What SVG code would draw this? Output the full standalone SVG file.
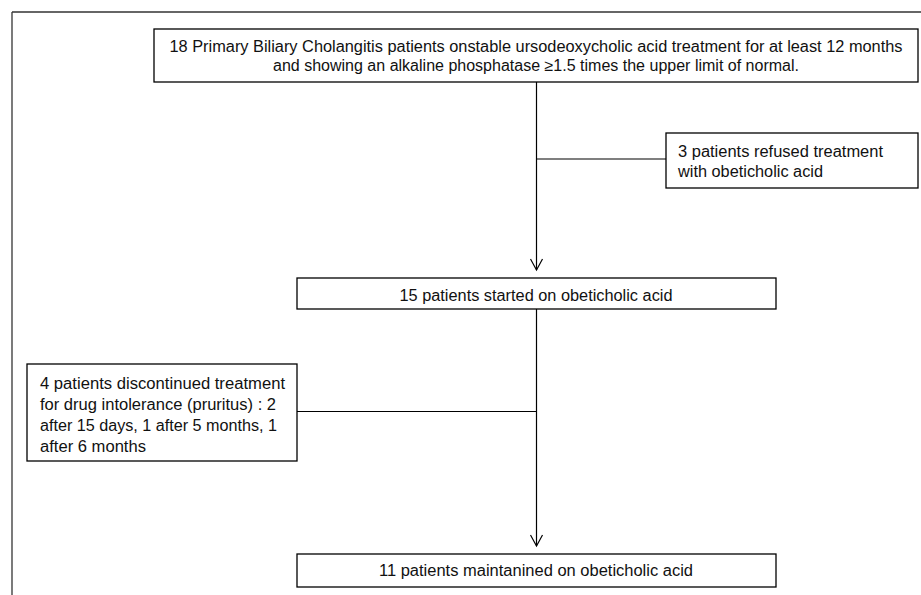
<svg xmlns="http://www.w3.org/2000/svg" width="921" height="595" viewBox="0 0 921 595">
<style>
.box{fill:#fff;stroke:#000;stroke-width:1.3}
.t{font-family:"Liberation Sans",Arial,sans-serif;font-size:16px;fill:#111}
.c{stroke:#000;stroke-width:1.2;fill:none}
</style>
<defs>
<marker id="arr" markerWidth="14" markerHeight="14" refX="12" refY="7" orient="auto" markerUnits="userSpaceOnUse">
<path d="M1,1 L12,7 L1,13" fill="none" stroke="#000" stroke-width="1.2"/>
</marker>
</defs>
<rect width="921" height="595" fill="#fff"/>
<g id="frame">
<line x1="12" y1="12" x2="921" y2="12" stroke="#333" stroke-width="1.3"/>
<line x1="12" y1="12" x2="12" y2="595" stroke="#333" stroke-width="1.3"/>
</g>
<g id="connectors">
<line class="c" x1="536.5" y1="82" x2="536.5" y2="270" marker-end="url(#arr)"/>
<line class="c" x1="536.5" y1="159" x2="666" y2="159"/>
<line class="c" x1="536.5" y1="309" x2="536.5" y2="546" marker-end="url(#arr)"/>
<line class="c" x1="297" y1="411.5" x2="536.5" y2="411.5"/>
</g>
<g id="n1">
<rect class="box" x="154" y="29" width="764" height="53"/>
<text class="t" x="536" y="51.5" text-anchor="middle" textLength="733" lengthAdjust="spacingAndGlyphs">18 Primary Biliary Cholangitis patients onstable ursodeoxycholic acid treatment for at least 12 months</text>
<text class="t" x="536" y="71" text-anchor="middle" textLength="526" lengthAdjust="spacingAndGlyphs">and showing an alkaline phosphatase ≥1.5 times the upper limit of normal.</text>
</g>
<g id="n2">
<rect class="box" x="666" y="133" width="252" height="55"/>
<text class="t" x="678" y="156.5" textLength="205" lengthAdjust="spacingAndGlyphs">3 patients refused treatment</text>
<text class="t" x="678" y="176.5" textLength="145" lengthAdjust="spacingAndGlyphs">with obeticholic acid</text>
</g>
<g id="n3">
<rect class="box" x="297" y="278" width="479" height="31"/>
<text class="t" x="536" y="301" text-anchor="middle" textLength="273" lengthAdjust="spacingAndGlyphs">15 patients started on obeticholic acid</text>
</g>
<g id="n4">
<rect class="box" x="27" y="364" width="270" height="97"/>
<text class="t" x="40" y="389" textLength="245" lengthAdjust="spacingAndGlyphs">4 patients discontinued treatment</text>
<text class="t" x="40" y="410" textLength="236" lengthAdjust="spacingAndGlyphs">for drug intolerance (pruritus) : 2</text>
<text class="t" x="40" y="431" textLength="237" lengthAdjust="spacingAndGlyphs">after 15 days, 1 after 5 months, 1</text>
<text class="t" x="40" y="452" textLength="106" lengthAdjust="spacingAndGlyphs">after 6 months</text>
</g>
<g id="n5">
<rect class="box" x="297" y="554" width="479" height="33"/>
<text class="t" x="536" y="576" text-anchor="middle" textLength="314" lengthAdjust="spacingAndGlyphs">11 patients maintanined on obeticholic acid</text>
</g>
</svg>
